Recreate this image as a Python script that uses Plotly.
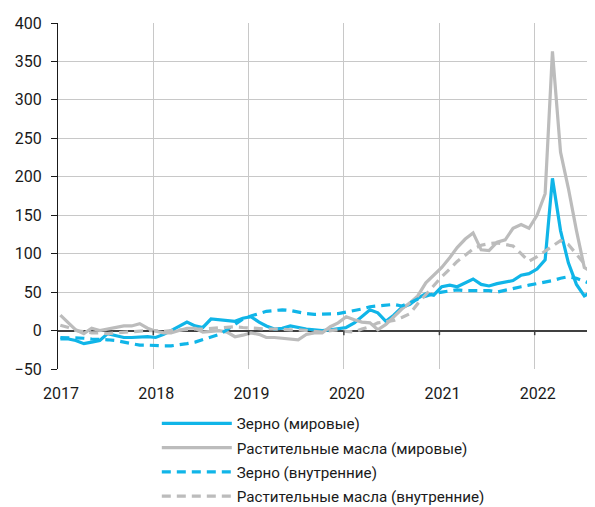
import pandas as pd
import plotly.graph_objects as go

# Monthly observations, Jan 2017 .. Aug 2022 (68 months)
months = pd.date_range("2017-01-01", periods=68, freq="MS") + pd.Timedelta(days=9)

grain_world = [-11, -11, -13, -17, -15, -13, -4, -7, -9, -9, -8, -8,
               -9, -5, 0, 6, 11, 6, 4, 15, 14, 13, 12, 16,
               18, 11, 6, 2, 3, 6, 4, 2, 1, 0, 1, 2,
               4, 10, 18, 27, 23, 12, 20, 30, 34, 42, 48, 46,
               57, 59, 57, 62, 67, 60, 58, 61, 63, 65, 72, 74,
               80, 92, 198, 130, 88, 60, 45, 51]

oil_world = [20, 10, 1, -4, 3, 0, 2, 4, 6, 6, 9, 3,
             -1, -3, -3, 0, 3, 3, -2, -1, 0, -2, -8, -6,
             -3, -5, -9, -9, -10, -10, -12, -5, -3, -3, 5, 10,
             18, 14, 11, 10, 1, 8, 18, 28, 36, 45, 62, 72,
             82, 95, 108, 119, 127, 105, 104, 115, 118, 133, 138, 133,
             150, 178, 363, 232, 185, 130, 82, 76]

grain_dom = [-9, -9, -10, -10, -11, -11, -12, -13, -15, -17, -19, -19,
             -20, -20, -20, -19, -17, -15, -12, -9, -5, 1, 8, 15,
             19, 22, 25, 26, 27, 26, 24, 22, 21, 21, 21, 22,
             24, 26, 28, 31, 32, 33, 34, 32, 36, 41, 45, 48,
             50, 52, 53, 52, 52, 52, 52, 50, 52, 55, 57, 59,
             61, 63, 65, 68, 70, 68, 64, 60]

oil_dom = [7, 4, 0, -2, -3, -3, -4, -3, -2, -1, -1, 0,
           0, -1, 0, 1, 1, 2, 2, 3, 4, 5, 5, 4,
           3, 2, 2, 2, 1, 1, 1, 0, -2, -2, 0, 1,
           -1, -2, 2, 5, 10, 12, 13, 17, 22, 35, 47, 58,
           70, 80, 90, 98, 106, 111, 113, 114, 112, 110, 100, 90,
           96, 103, 110, 117, 112, 100, 87, 74]

names = ["Зерно (мировые)", "Растительные масла (мировые)",
         "Зерно (внутренние)", "Растительные масла (внутренние)"]

year_ticks = ["2017-01-01", "2018-01-01", "2019-01-01", "2020-01-01", "2021-01-01", "2022-01-01"]
year_labels = ["2017", "2018", "2019", "2020", "2021", "2022"]
y_ticks = [-50, 0, 50, 100, 150, 200, 250, 300, 350, 400]

CYAN = "#10b5e8"
GREY = "#bcbcbc"
FONT = "Roboto"

fig = go.Figure()
series = [(grain_world, CYAN, "solid"), (oil_world, GREY, "solid"),
          (grain_dom, CYAN, "9px,6px"), (oil_dom, GREY, "9px,6px")]
for i, ((vals, col, dash), nm) in enumerate(zip(series, names)):
    fig.add_trace(go.Scatter(x=months, y=vals, name=nm, mode="lines",
                             line=dict(color=col, width=3.2, dash=dash),
                             legendgroup=str(i)))

# small tick marks below the zero line at each year
for t in year_ticks[1:]:
    fig.add_shape(type="line", xref="x", yref="y", x0=t, x1=t, y0=0, y1=-6,
                  line=dict(color="#404040", width=1.5), layer="above")

x_range = ["2017-01-01", "2022-08-20"]
fig.update_layout(
    width=587, height=499,
    margin=dict(l=50, r=0, t=15, b=138, autoexpand=False),
    paper_bgcolor="white", plot_bgcolor="white",
    font=dict(family=FONT, size=16, color="#1a1a1a"),
    showlegend=True,
    legend=dict(orientation="v", x=0.184, xanchor="left",
                y=-0.110, yanchor="top",
                itemwidth=70, tracegroupgap=1.5,
                font=dict(family=FONT, size=15.2, color="#1a1a1a"),
                bgcolor="rgba(0,0,0,0)"),
    xaxis=dict(type="date", range=x_range, tickvals=year_ticks, ticktext=year_labels,
               showgrid=True, gridcolor="#c8c8c8", gridwidth=1.3,
               ticks="outside", ticklen=9, tickcolor="rgba(0,0,0,0)",
               ticklabelshift=3, automargin=False,
               showline=True, linecolor="white", linewidth=2,
               zeroline=False),
    yaxis=dict(range=[-50, 400], tickvals=y_ticks, automargin=False,
               showgrid=True, gridcolor="#c8c8c8", gridwidth=1.3,
               ticks="outside", ticklen=6, tickcolor="#1a1a1a", tickwidth=1.3,
               showline=True, linecolor="#1a1a1a", linewidth=1.3,
               zeroline=True, zerolinecolor="#404040", zerolinewidth=1.5,
               ticklabelstandoff=6),
)

fig.write_html("out.html")
